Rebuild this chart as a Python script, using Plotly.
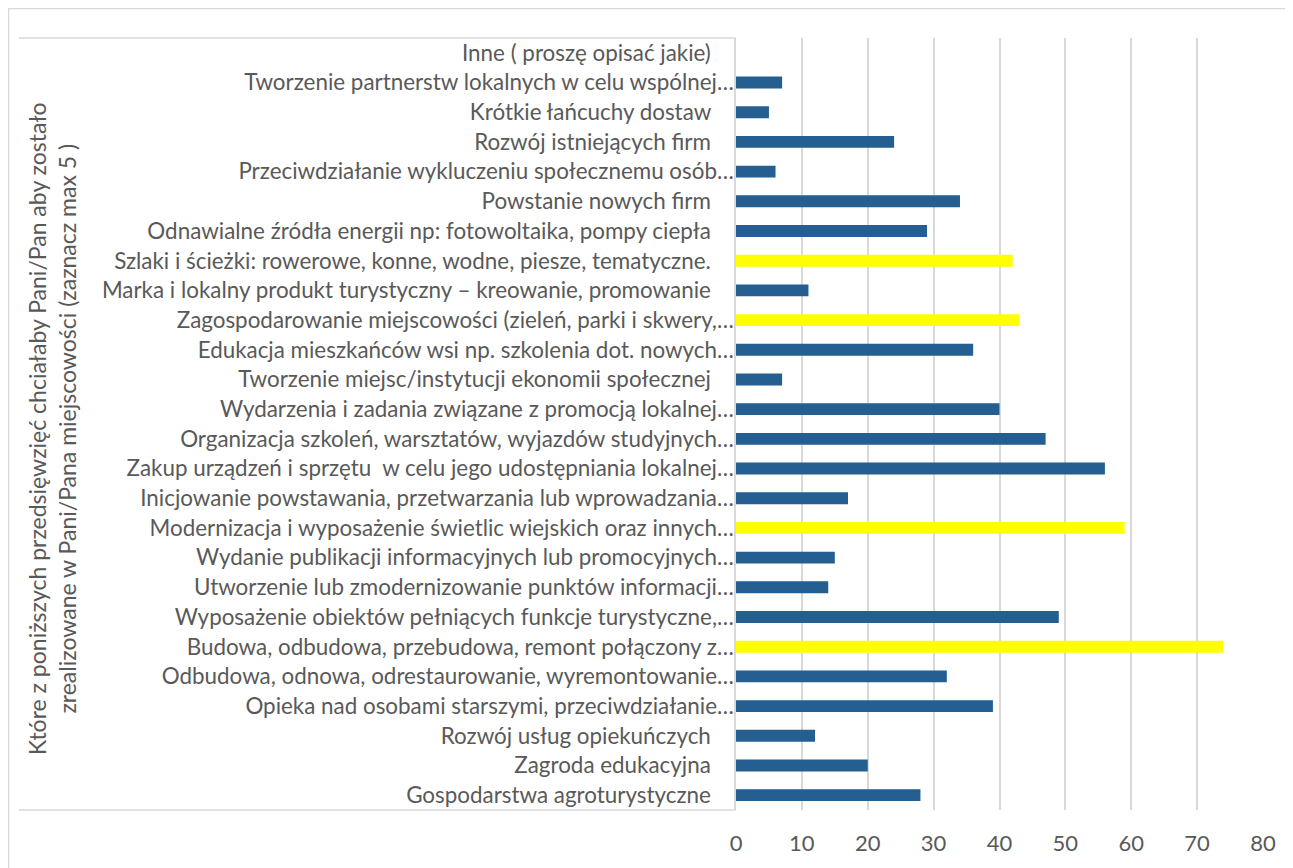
import plotly.graph_objects as go

# Categories listed top to bottom as in the reference
categories = [
    "Inne ( proszę opisać jakie)",
    "Tworzenie partnerstw lokalnych w celu wspólnej…",
    "Krótkie łańcuchy dostaw",
    "Rozwój istniejących firm",
    "Przeciwdziałanie wykluczeniu społecznemu osób…",
    "Powstanie nowych firm",
    "Odnawialne źródła energii np: fotowoltaika, pompy ciepła",
    "Szlaki i ścieżki: rowerowe, konne, wodne, piesze, tematyczne.",
    "Marka i lokalny produkt turystyczny – kreowanie, promowanie",
    "Zagospodarowanie miejscowości (zieleń, parki i skwery,…",
    "Edukacja mieszkańców wsi np. szkolenia dot. nowych…",
    "Tworzenie miejsc/instytucji ekonomii społecznej",
    "Wydarzenia i zadania związane z promocją lokalnej…",
    "Organizacja szkoleń, warsztatów, wyjazdów studyjnych…",
    "Zakup urządzeń i sprzętu  w celu jego udostępniania lokalnej…",
    "Inicjowanie powstawania, przetwarzania lub wprowadzania…",
    "Modernizacja i wyposażenie świetlic wiejskich oraz innych…",
    "Wydanie publikacji informacyjnych lub promocyjnych…",
    "Utworzenie lub zmodernizowanie punktów informacji…",
    "Wyposażenie obiektów pełniących funkcje turystyczne,…",
    "Budowa, odbudowa, przebudowa, remont połączony z…",
    "Odbudowa, odnowa, odrestaurowanie, wyremontowanie…",
    "Opieka nad osobami starszymi, przeciwdziałanie…",
    "Rozwój usług opiekuńczych",
    "Zagroda edukacyjna",
    "Gospodarstwa agroturystyczne",
]

values = [0, 7, 5, 24, 6, 34, 29, 42, 11, 43, 36, 7, 40, 47,
          56, 17, 59, 15, 14, 49, 74, 32, 39, 12, 20, 28]

highlighted = [
    "Szlaki i ścieżki: rowerowe, konne, wodne, piesze, tematyczne.",
    "Zagospodarowanie miejscowości (zieleń, parki i skwery,…",
    "Modernizacja i wyposażenie świetlic wiejskich oraz innych…",
    "Budowa, odbudowa, przebudowa, remont połączony z…",
]

x_tick_values = [0, 10, 20, 30, 40, 50, 60, 70, 80]

axis_title = ("Które z poniższych przedsięwzięć chciałaby Pani/Pan aby zostało<br>"
              "zrealizowane w Pani/Pana miejscowości (zaznacz max 5 )")

BLUE = "#255E91"
YELLOW = "#FFFF00"
GRID = "#D9D9D9"
TEXT = "#595959"
FONT = "Lato, 'Open Sans', sans-serif"

OFF = 8  # page body margin
W, H = 1293 - OFF, 868 - OFF
L = 736 - OFF
T = 38 - OFF
R = W - (1263 - OFF)
B = H - (812 - OFF)
pw = W - L - R
ph = H - T - B

colors = [YELLOW if c in highlighted else BLUE for c in categories]

# Non-truncated labels get padding like Excel
ticktext = [c if c.endswith("…") else c + "\u00a0" * 4 for c in categories]

fig = go.Figure(go.Bar(
    x=values, y=categories, orientation="h",
    marker=dict(color=colors, line=dict(width=0)),
    width=0.4,
))

def px_x(p):
    return (p - OFF - L) / pw

def px_y(p):
    return 1 - (p - OFF - T) / ph

fig.update_layout(
    width=W, height=H,
    margin=dict(l=L, r=R, t=T, b=B, pad=0),
    paper_bgcolor="white", plot_bgcolor="white",
    showlegend=False,
    font=dict(family=FONT, color=TEXT, size=22),
    xaxis=dict(
        range=[0, 80], tickvals=x_tick_values, ticks="",
        showgrid=True, gridcolor=GRID, gridwidth=2,
        zeroline=False, showline=False,
        tickfont=dict(size=22, color=TEXT),
        ticklabelstandoff=18,
    ),
    yaxis=dict(
        type="category", autorange="reversed",
        tickvals=categories, ticktext=ticktext,
        ticks="", showgrid=False, zeroline=False,
        showline=True, linecolor=GRID, linewidth=1.5,
        tickfont=dict(size=22.4, color=TEXT),
        ticklabelstandoff=-4,
    ),
    annotations=[dict(
        text=axis_title, textangle=-90,
        xref="paper", yref="paper",
        x=px_x(52), y=px_y(430), xanchor="center", yanchor="middle",
        showarrow=False,
        font=dict(family=FONT, size=23, color=TEXT),
        align="center",
    )],
    shapes=[
        # outer chart border
        dict(type="rect", xref="paper", yref="paper",
             x0=px_x(OFF + 0.5), x1=px_x(1300), y0=px_y(880), y1=px_y(OFF + 0.5),
             line=dict(color=GRID, width=1.5), layer="below"),
        # category label box top and bottom edges
        dict(type="line", xref="paper", yref="paper",
             x0=px_x(19), x1=0, y0=1, y1=1,
             line=dict(color=GRID, width=1.5)),
        dict(type="line", xref="paper", yref="paper",
             x0=px_x(19), x1=0, y0=0, y1=0,
             line=dict(color=GRID, width=1.5)),
    ],
)

fig.write_html("out.html")
